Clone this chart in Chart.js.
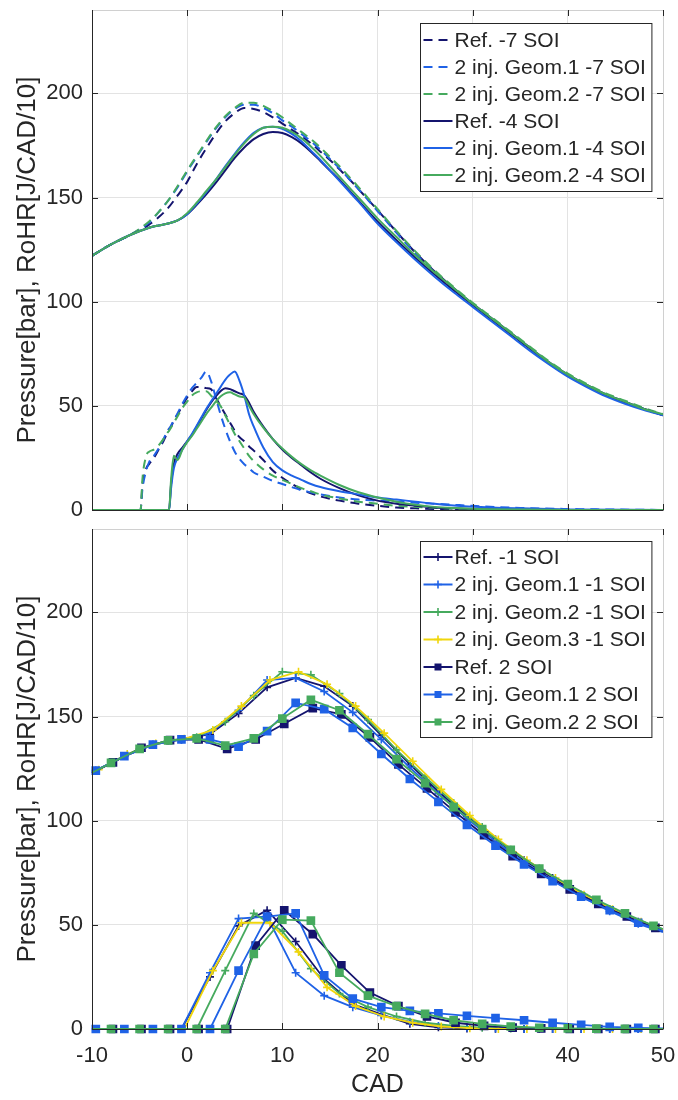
<!DOCTYPE html>
<html><head><meta charset="utf-8">
<script src="https://cdn.jsdelivr.net/npm/chart.js@4.4.1/dist/chart.umd.min.js"></script>
<style>
html,body{margin:0;padding:0;background:#fff;}
#wrap{position:relative;width:678px;height:1100px;overflow:hidden;}
#c1{position:absolute;left:0;top:0;}
#c2{position:absolute;left:0;top:519px;}
</style></head><body>
<div id="wrap"><canvas id="c1" width="678" height="530"></canvas><canvas id="c2" width="678" height="581"></canvas></div>
<script>
// ---------- ticks ----------
const xTicks = [-10,0,10,20,30,40,50];
const yTicks = [0,50,100,150,200];

// ---------- legend labels ----------
const legendTop = ['Ref. -7 SOI','2 inj. Geom.1 -7 SOI','2 inj. Geom.2 -7 SOI','Ref. -4 SOI','2 inj. Geom.1 -4 SOI','2 inj. Geom.2 -4 SOI'];
const legendBottom = ['Ref. -1 SOI','2 inj. Geom.1 -1 SOI','2 inj. Geom.2 -1 SOI','2 inj. Geom.3 -1 SOI','Ref. 2 SOI','2 inj. Geom.1 2 SOI','2 inj. Geom.2 2 SOI'];

// ---------- top panel: pressure ----------
const xP = [-10,-8,-6,-4,-3,-2,-1,0,1,2,3,4,5,6,7,8,9,10,11,12,13,14,15,16,17,18,20,22,24,26,28,30,32,34,36,38,40,42,44,46,48,50];
const pRef7 = [122,127.5,132,137,140.5,145,151,157.5,166,173.5,180.5,186.5,190.5,193,192.5,191,188.5,185.5,182.5,179.5,176,172,168,163.5,159,154,144,133.5,123.5,114.5,106.5,99,92,85,78,71,65,60,55.5,52,48.5,45.5];
const pG1_7 = [122,127.5,132,138,143,148.5,155,162.5,169.5,176.5,183,188.5,192.5,194.5,194.5,193,190.5,187,184,180.5,177,173,168.5,164,159,154,143.5,133,123,114,106,98.5,91.5,84.5,77.5,70.5,64.5,59.5,55,51.5,48.5,45.5];
const pG2_7 = [122,127.5,132,138.5,143,148.5,155.5,163,170,177,183.5,189,193,195.5,195.5,194,191.5,188.5,185,181.5,178,174,169.5,165,160,155,144.5,134,124,115,107,99.5,92.5,85.5,78.5,71.5,65.5,60.5,56,52.5,49,46];
const pRef4 = [122,127.5,132,135.5,136.6,137.5,139,142,146.5,151.5,157,163,169,174,178,180.5,181.5,181,179,176,172,167.5,163,158.5,153.5,148.5,138.5,129.5,121,113,105.5,98.5,91.5,84.5,77.5,70.5,64.5,59.5,55,51.5,48.5,45.5];
const pG1_4 = [122,127.5,132,135.5,136.6,137.5,139,142,147,152.5,158.5,165,171,176.5,181,183.5,184,183,180.5,177,172.5,168,163,158,153,148,137.5,128.5,120,112,104.5,97.5,90.5,83.5,76.5,70,64,59,54.5,51,48,45.5];
const pG2_4 = [122,127.5,132,135.5,136.6,137.5,139,142.5,147.5,153,158.5,164.5,170.5,176,180.5,183.5,184,183.5,181.5,178.5,174.5,170,165,160,155,150,140,131,122,114,106.5,99,92,85,78,71,65,60,55.5,52,48.5,46];

// ---------- top panel: RoHR ----------
const xR = [-10,-4.9,-4.7,-4.3,-4,-3.5,-3,-2.5,-2,-1.9,-1.7,-1.4,-1,-0.5,0,0.5,1,1.5,2,2.5,3,3.5,4,4.5,5,5.5,6,6.5,7,8,9,10,11,12,13,14,16,18,20,22,24,26,28,30,35,40,50];
const rRef7 = [0,0,12,20,22,25,29,33,38,39,40,43,46,50,54,57,59,59,58.5,58,54,50,46,42,38,35,33,30.5,28.5,24,19,15.5,12.5,10,8,6.5,4.5,3,2,1.2,0.8,0.5,0.3,0.2,0,0,0];
const rG1_7 = [0,0,10,19,23,26,29.5,34,38.5,39,40.5,43,46.5,51,55,58.5,61,63.5,66.5,62,54,46,39,33,28,24.5,22,20,18,16,14,12.5,11,9.5,8.5,7.5,6,5,4.5,4,3.5,3,2.5,2,1,0.5,0];
const rG2_7 = [0,0,15,26,28,29,31,34,37.5,38,39.5,42,45,49,52,55,56.5,57,57,55,52.5,50,45.5,41,36.5,33,29.5,26,23.5,19.5,16.5,14.5,12.5,10.5,9,7.5,5.5,4,3,2,1.5,1,0.6,0.4,0.1,0,0];
const rRef4 = [0,0,0,0,0,0,0,0,0,0,12,22,27,30,33,36,40,44,48,51.5,54.5,57,58.5,58,57,56,55,51.5,47,40,34,29,25,21.5,18,15,10.5,7,4.5,3,2,1.2,0.8,0.5,0.2,0,0];
const rG1_4 = [0,0,0,0,0,0,0,0,0,0,10,20,25,29,33,36.5,40.5,44.5,48.5,52,55.5,59,62.5,65,66.5,62,55,46,40,30,23,19,16.5,14.5,12.5,11,9,7.5,6,5,4,3,2.2,1.6,0.8,0.3,0];
const rG2_4 = [0,0,0,0,0,0,0,0,0,0,14,26,24,29,32.5,35.5,39,42.5,46,49,52,54.5,56,56.5,55.5,54.5,54,50,46,39.5,34,29.5,25.5,22,19,16.5,12,8.5,6,4,2.5,1.5,1,0.6,0.2,0,0];

// ---------- bottom panel x positions (marker samples) ----------
const xA = [-10,-9.6,-6.6,-3.6,-0.6,2.4,5.4,8.4,11.4,14.4,17.4,20.4,23.4,26.4,29.4,32.4,35.4,38.4,41.4,44.4,47.4,50];
const xB = [-10,-8,-5,-2,1,4,7,10,13,16,19,22,25,28,31,34,37,40,43,46,49,50];
const xC = [-10,-9.3,-6.3,-3.3,-0.3,2.7,5.7,8.7,11.7,14.7,17.7,20.7,23.7,26.7,29.7,32.7,35.7,38.7,41.7,44.7,47.7,50];
const xD = [-10,-7.8,-4.8,-1.8,1.2,4.2,7.2,10.2,13.2,16.2,19.2,22.2,25.2,28.2,31.2,34.2,37.2,40.2,43.2,46.2,49.2,50];

// ---------- bottom panel: pressure ----------
const pRef1 = [123,124,131,136.5,139,141.5,151.5,164,168.5,164.5,155,141,127,114,102,91,81,72.5,64.5,57.5,51.5,47];
const pG1_1 = [123,124,131,136.5,139,142,153,167.5,168.5,162,152,139,125.5,113,101,90,80,71.5,63.5,56.5,50.5,46.5];
const pG2_1 = [123,127.7,134.5,138.5,140,147.5,160,171.5,170,161,148.5,134,121,108.5,97,86,77,69,61.5,55,49.5,48];
const pG3_1 = [123,124.5,132,137,139.3,143.5,155,167.5,171.5,165.5,155,142,128.5,115,102.5,91,81,72.5,64.5,57.5,51.5,47.5];
const pRef2 = [123,128,135,138.7,139,134.5,139,146.5,154,151,140,127,115.5,104,93,83,74.5,67,60,54,48.5,47];
const pG1_2 = [123,124,131,136.5,139,139,135.5,143,156.5,153.5,144.5,132,120,109,98,88,79,71,63.5,57,51,47];
const pG2_2 = [123,127.7,134.5,138.5,139.5,136,139.5,149,158,153,141.5,129.5,118,106.5,96,86,77,69.5,62,55.5,49.5,48];

// ---------- bottom panel: RoHR ----------
const rRef1 = [0,0,0,0,0,25,49.5,57,42,24,12,7,2.5,0.8,0.3,0.1,0,0,0,0,0,0];
const rG1_1 = [0,0,0,0,0,27,53,54,27,16,10.5,6.5,3.5,1.5,0.7,0.3,0,0,0,0,0,0];
const rG2_1 = [0,0,0,0,0,28,55.5,47,29,17,10.5,6,3,1.5,0.6,0.2,0,0,0,0,0,0];
const rG3_1 = [0,0,0,0,0,28,51,51,37,20,11,6,3,1.2,0.4,0,0,0,0,0,0,0];
const rRef2 = [0,0,0,0,0,0,40,57,45.5,30.5,17.5,11,6,3,1.5,0.7,0.3,0.1,0,0,0,0];
const rG1_2 = [0,0,0,0,0,0,28,54,55.5,25.7,14.6,10.5,8.7,7.5,6.3,5.2,4.2,3,2,1,0.5,0.3];
const rG2_2 = [0,0,0,0,0,0,36,52.5,52,27,16,11,7.3,4.2,2.5,1.2,0.6,0.3,0.2,0.1,0,0];

// ---------- styling ----------
const FONT = "'Liberation Sans', Arial, Helvetica, sans-serif";
const INK = '#262626';
const NAVY = '#14146e', BLUE = '#1f62e6', GREEN = '#46aa5e', YELLOW = '#f0d60c';
const DASH = [9,6];

const topStyles = [
  {c:NAVY, dash:DASH},{c:BLUE, dash:DASH},{c:GREEN, dash:DASH},
  {c:NAVY, dash:[]},{c:BLUE, dash:[]},{c:GREEN, dash:[]}
];
const botStyles = [
  {c:NAVY, m:'cross'},{c:BLUE, m:'cross'},{c:GREEN, m:'cross'},{c:YELLOW, m:'cross'},
  {c:NAVY, m:'rect'},{c:BLUE, m:'rect'},{c:GREEN, m:'rect'}
];

function pts(xs, ys){ return xs.map((x,i)=>({x:x, y:ys[i]})); }

// top datasets
const topPress = [pRef7,pG1_7,pG2_7,pRef4,pG1_4,pG2_4];
const topRohr = [rRef7,rG1_7,rG2_7,rRef4,rG1_4,rG2_4];
const topSets = [];
topPress.forEach((ys,i)=>topSets.push({s:topStyles[i], data:pts(xP, ys), label:legendTop[i]}));
topRohr.forEach((ys,i)=>topSets.push({s:topStyles[i], data:pts(xR, ys), label:legendTop[i]}));
const topDatasets = topSets.map((d,i)=>({
  label:d.label, data:d.data, borderColor:d.s.c, backgroundColor:d.s.c,
  borderWidth:2, borderDash:d.s.dash, pointRadius:0, cubicInterpolationMode:'monotone',
  order: topSets.length - i, fill:false
}));

// bottom datasets
const botX = [xA,xA,xB,xC,xD,xA,xB];
const botPress = [pRef1,pG1_1,pG2_1,pG3_1,pRef2,pG1_2,pG2_2];
const botRohr = [rRef1,rG1_1,rG2_1,rG3_1,rRef2,rG1_2,rG2_2];
const botSets = [];
botPress.forEach((ys,i)=>botSets.push({s:botStyles[i], data:pts(botX[i], ys), label:legendBottom[i]}));
botRohr.forEach((ys,i)=>botSets.push({s:botStyles[i], data:pts(botX[i], ys), label:legendBottom[i]}));
const markerRadius = ctx => { const r = ctx.raw; if(!r) return 0; return (r.x===-10||r.x===50)?0:(ctx.dataset.pointStyle==='rect'?5:4); };
const botDatasets = botSets.map((d,i)=>({
  label:d.label, data:d.data, borderColor:d.s.c, backgroundColor:d.s.c,
  borderWidth:1.8, tension:0, pointStyle:d.s.m, pointRadius:markerRadius,
  pointBorderColor:d.s.c, pointBackgroundColor:d.s.c, pointBorderWidth:1.6,
  order: botSets.length - i, fill:false, clip:8
}));

// ---------- plugins ----------
const framePlugin = {
  id:'frame',
  afterDatasetsDraw(chart){
    const ctx = chart.ctx, a = chart.chartArea, x = chart.scales.x, y = chart.scales.y;
    ctx.save();
    ctx.lineWidth = 1;
    ctx.setLineDash([]);
    ctx.strokeStyle = '#d0d0d0';
    ctx.beginPath();
    ctx.moveTo(a.left, Math.round(a.top)+0.5); ctx.lineTo(Math.round(a.right)+0.5, Math.round(a.top)+0.5);
    ctx.lineTo(Math.round(a.right)+0.5, a.bottom);
    ctx.stroke();
    ctx.strokeStyle = INK;
    ctx.beginPath();
    ctx.moveTo(Math.round(a.left)+0.5, a.top); ctx.lineTo(Math.round(a.left)+0.5, Math.round(a.bottom)+0.5);
    ctx.lineTo(Math.round(a.right)+0.5, Math.round(a.bottom)+0.5);
    ctx.stroke();
    ctx.beginPath();
    xTicks.forEach(v=>{
      const px = Math.round(x.getPixelForValue(v))+0.5;
      ctx.moveTo(px, a.bottom); ctx.lineTo(px, a.bottom-6);
      ctx.moveTo(px, a.top); ctx.lineTo(px, a.top+6);
    });
    yTicks.forEach(v=>{
      const py = Math.round(y.getPixelForValue(v))+0.5;
      ctx.moveTo(a.left, py); ctx.lineTo(a.left+6, py);
      ctx.moveTo(a.right, py); ctx.lineTo(a.right-6, py);
    });
    ctx.stroke();
    ctx.restore();
  }
};

function drawMarker(ctx, style, x, y, color){
  ctx.save();
  ctx.setLineDash([]);
  ctx.strokeStyle = color; ctx.fillStyle = color; ctx.lineWidth = 1.6;
  if(style==='cross'){
    ctx.beginPath(); ctx.moveTo(x-4,y); ctx.lineTo(x+4,y); ctx.moveTo(x,y-4); ctx.lineTo(x,y+4); ctx.stroke();
  } else if(style==='rect'){
    ctx.fillRect(x-3.5,y-3.5,7,7);
  }
  ctx.restore();
}

const boxLegend = {
  id:'boxLegend',
  afterDraw(chart, args, opts){
    const items = opts.items; if(!items) return;
    const ctx = chart.ctx, a = chart.chartArea;
    ctx.save();
    ctx.font = '21px ' + FONT;
    let maxW = 0;
    items.forEach(it=>{ maxW = Math.max(maxW, ctx.measureText(it.text).width); });
    const w = 34 + maxW + 6;
    const h = items.length*opts.rowH + 2*opts.extra;
    const right = a.right - 12;
    const left = Math.round(right - w) + 0.5;
    const top = Math.round(a.top + opts.dy) + 0.5;
    ctx.fillStyle = '#fff';
    ctx.fillRect(left, top, w, h);
    ctx.strokeStyle = INK; ctx.lineWidth = 1;
    ctx.strokeRect(left, top, w, h);
    items.forEach((it,i)=>{
      const cy = top + opts.extra + opts.rowH*(i+0.5);
      ctx.save();
      ctx.strokeStyle = it.color; ctx.lineWidth = 2;
      ctx.setLineDash(it.dash || []);
      ctx.beginPath(); ctx.moveTo(left+3, cy); ctx.lineTo(left+32, cy); ctx.stroke();
      ctx.restore();
      if(it.marker) drawMarker(ctx, it.marker, left+17.5, cy, it.color);
      ctx.fillStyle = INK; ctx.textBaseline = 'middle'; ctx.textAlign = 'left';
      ctx.fillText(it.text, left+34, cy+1);
    });
    ctx.restore();
  }
};

function makeOptions(isBottom, legendItems, legendCfg){
  return {
    responsive:false, animation:false, events:[],
    layout:{padding:{top:10, right:15, left:0, bottom:0}},
    plugins:{
      legend:{display:false}, tooltip:{enabled:false},
      boxLegend:Object.assign({items:legendItems}, legendCfg)
    },
    scales:{
      x:{
        type:'linear', min:-10, max:50,
        afterBuildTicks:s=>{ s.ticks = xTicks.map(v=>({value:v})); },
        grid:{color:'#e3e3e3', drawTicks:false, lineWidth:1},
        border:{display:false},
        ticks:{display:isBottom, font:{size:22, family:FONT}, color:INK, padding:14, maxRotation:0, autoSkip:false},
        title:{display:isBottom, text:'CAD', font:{size:25, family:FONT}, color:INK, padding:{top:0,bottom:0}},
        afterFit:s=>{ s.height = isBottom ? 71 : 20; s.paddingLeft = 0; s.paddingRight = 0; }
      },
      y:{
        type:'linear', min:0, max:240,
        afterBuildTicks:s=>{ s.ticks = yTicks.map(v=>({value:v})); },
        grid:{color:'#e3e3e3', drawTicks:false, lineWidth:1},
        border:{display:false},
        ticks:{font:{size:22, family:FONT}, color:INK, padding:9},
        title:{display:true, text:'Pressure[bar], RoHR[J/CAD/10]', font:{size:26, family:FONT}, color:INK, padding:{top:12,bottom:0}},
        afterFit:s=>{ s.width = 92; s.paddingTop = 0; s.paddingBottom = 0; }
      }
    }
  };
}

const topLegendItems = legendTop.map((t,i)=>({text:t, color:topStyles[i].c, dash:topStyles[i].dash}));
const botLegendItems = legendBottom.map((t,i)=>({text:t, color:botStyles[i].c, marker:botStyles[i].m}));

new Chart(document.getElementById('c1'), {
  type:'line',
  data:{datasets:topDatasets},
  options:makeOptions(false, topLegendItems, {rowH:27, extra:3, dy:13}),
  plugins:[framePlugin, boxLegend]
});
new Chart(document.getElementById('c2'), {
  type:'line',
  data:{datasets:botDatasets},
  options:makeOptions(true, botLegendItems, {rowH:27.5, extra:1.75, dy:11.7}),
  plugins:[framePlugin, boxLegend]
});
</script>
</body></html>
